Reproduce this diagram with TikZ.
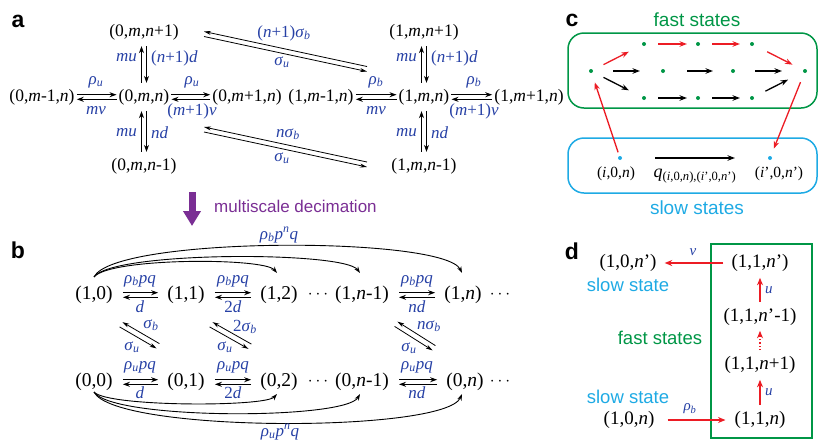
\documentclass[tikz,border=0pt]{standalone}
\usepackage{fontspec}
\setmainfont{Liberation Serif}
\newfontfamily\sansf{Liberation Sans}
\usetikzlibrary{arrows.meta,calc}
\definecolor{lblue}{RGB}{38,64,165}
\definecolor{fgreen}{RGB}{0,150,70}
\definecolor{scyan}{RGB}{30,170,228}
\definecolor{ared}{RGB}{236,28,36}
\definecolor{mpurple}{RGB}{122,46,148}
\newcommand\mi[1]{\textit{#1}}
\newcommand\sbs[1]{\textsubscript{\textit{#1}}}
\begin{document}
\begin{tikzpicture}[x=1pt,y=-1pt,
  stA/.style={inner sep=0pt,font=\fontsize{17.5}{20}\selectfont},
  stB/.style={inner sep=0pt,font=\fontsize{19.5}{22}\selectfont},
  stC/.style={inner sep=0pt,font=\fontsize{15.5}{18}\selectfont},
  stD/.style={inner sep=0pt,font=\fontsize{19}{22}\selectfont},
  dts/.style={inner sep=0pt,font=\fontsize{18}{20}\selectfont},
  lb/.style={inner sep=0pt,text=lblue,font=\fontsize{17}{20}\selectfont},
  lbs/.style={inner sep=0pt,text=lblue,font=\fontsize{15}{18}\selectfont},
  panel/.style={inner sep=0pt,font=\sansf\bfseries\fontsize{23}{26}\selectfont},
  sanslab/.style={inner sep=0pt,font=\sansf\fontsize{18.5}{22}\selectfont},
  tipA/.style={-{Stealth[length=7pt,width=5pt]}},
  fw/.style={line width=1pt,tipA},
  bw/.style={line width=1.6pt,tipA},
  dg/.style={line width=0.8pt,-{Stealth[length=7pt,width=4pt]}},
  cv/.style={line width=0.9pt,-{Stealth[length=6.5pt,width=4.5pt]}},
  ca/.style={line width=1.3pt,-{Stealth[length=7.5pt,width=5.5pt]}},
  da/.style={line width=1.6pt,draw=ared,-{Stealth[length=7.5pt,width=6pt]}},
  dot/.style={circle,fill,inner sep=0pt,minimum size=4pt},
]
\useasboundingbox (0,0) rectangle (818,440);

% ---------------- panel a ----------------
\node[panel] (la) at (18,21) {a};
\node[stA] (a01) at (144,32) {(0,\mi{m},\mi{n}+1)};
\node[stA] (a00) at (144,97) {(0,\mi{m},\mi{n})};
\node[stA] (a0l) at (42,97) {(0,\mi{m}-1,\mi{n})};
\node[stA] (a0r) at (247,97) {(0,\mi{m}+1,\mi{n})};
\node[stA] (a0d) at (144,166) {(0,\mi{m},\mi{n}-1)};
\node[stA] (a11) at (424,32) {(1,\mi{m},\mi{n}+1)};
\node[stA] (a10) at (424,97) {(1,\mi{m},\mi{n})};
\node[stA] (a1l) at (321,97) {(1,\mi{m}-1,\mi{n})};
\node[stA] (a1r) at (529,97) {(1,\mi{m}+1,\mi{n})};
\node[stA] (a1d) at (424,166) {(1,\mi{m},\mi{n}-1)};

\foreach \p/\q in {a0l/a00,a00/a0r,a1l/a10,a10/a1r}{
  \draw[fw,shorten <=2pt,shorten >=2pt] ([yshift=2.3pt]\p.east) -- ([yshift=2.3pt]\q.west);
  \draw[bw,shorten <=2pt,shorten >=2pt] ([yshift=-2.3pt]\q.west) -- ([yshift=-2.3pt]\p.east);
}
\foreach \p/\q in {a01/a00,a00/a0d,a11/a10,a10/a1d}{
  \draw[bw,shorten <=6pt,shorten >=6pt] ([xshift=-2.5pt]\q.north) -- ([xshift=-2.5pt]\p.south);
  \draw[fw,shorten <=6pt,shorten >=6pt] ([xshift=2.5pt]\p.south) -- ([xshift=2.5pt]\q.north);
}
\node[lb] (r1) at (96,82) {\mi{ρ}\sbs{u}};
\node[lb] (r2) at (96,111) {\mi{mv}};
\node[lb] (r3) at (192,82) {\mi{ρ}\sbs{u}};
\node[lb] (r4) at (192,111) {(\mi{m}+1)\mi{v}};
\node[lb] (r5) at (376,82) {\mi{ρ}\sbs{b}};
\node[lb] (r6) at (376,111) {\mi{mv}};
\node[lb] (r7) at (474,82) {\mi{ρ}\sbs{b}};
\node[lb] (r8) at (474,111) {(\mi{m}+1)\mi{v}};
\node[lb,anchor=east] (v1) at (137,58) {\mi{mu}};
\node[lb,anchor=west] (v2) at (151,58) {(\mi{n}+1)\mi{d}};
\node[lb,anchor=east] (v3) at (137,133) {\mi{mu}};
\node[lb,anchor=west] (v4) at (151,133) {\mi{nd}};
\node[lb,anchor=east] (v5) at (417,58) {\mi{mu}};
\node[lb,anchor=west] (v6) at (431,58) {(\mi{n}+1)\mi{d}};
\node[lb,anchor=east] (v7) at (417,133) {\mi{mu}};
\node[lb,anchor=west] (v8) at (431,133) {\mi{nd}};

\coordinate (dt1) at (204,34);
\coordinate (dt2) at (367,69);
\coordinate (db1) at (204,129.5);
\coordinate (db2) at (367,164.5);
\draw[dg] ([yshift=-2.5pt]dt1) -- ([yshift=-2.5pt]dt2);
\draw[dg] ([yshift=2.5pt]dt2) -- ([yshift=2.5pt]dt1);
\draw[dg] ([yshift=-2.5pt]db1) -- ([yshift=-2.5pt]db2);
\draw[dg] ([yshift=2.5pt]db2) -- ([yshift=2.5pt]db1);
\node[lb] (s1) at (284,33) {(\mi{n}+1)\mi{σ}\sbs{b}};
\node[lb] (s2) at (282,62) {\mi{σ}\sbs{u}};
\node[lb] (s3) at (288,134) {\mi{nσ}\sbs{b}};
\node[lb] (s4) at (282,158) {\mi{σ}\sbs{u}};

% ---------------- decimation arrow ----------------
\coordinate (ms1) at (192,192);
\coordinate (ms2) at (192,226);
\draw[mpurple,line width=7pt,-{Triangle[length=15pt,width=17pt]}] (ms1) -- (ms2);
\node[inner sep=0pt,anchor=west,text=mpurple,font=\sansf\fontsize{17}{20}\selectfont] (mst) at (214,206) {multiscale decimation};

% ---------------- panel b ----------------
\node[panel] (lbb) at (18,250) {b};
\node[stB] (b10) at (94,295) {(1,0)};
\node[stB] (b11) at (186,295) {(1,1)};
\node[stB] (b12) at (279,295) {(1,2)};
\node[dts] (bd1) at (318,295) {$\cdots$};
\node[stB] (b1m) at (362,295) {(1,\mi{n}-1)};
\node[stB] (b1n) at (463,295) {(1,\mi{n})};
\node[dts] (bd2) at (500,295) {$\cdots$};
\node[stB] (b00) at (94,382) {(0,0)};
\node[stB] (b01) at (186,382) {(0,1)};
\node[stB] (b02) at (279,382) {(0,2)};
\node[dts] (bd3) at (318,382) {$\cdots$};
\node[stB] (b0m) at (362,382) {(0,\mi{n}-1)};
\node[stB] (b0n) at (465,382) {(0,\mi{n})};
\node[dts] (bd4) at (500,382) {$\cdots$};

\foreach \p/\q in {b10/b11,b11/b12,b1m/b1n,b00/b01,b01/b02,b0m/b0n}{
  \draw[fw,shorten <=10pt,shorten >=9pt] ([yshift=2.3pt]\p.east) -- ([yshift=2.3pt]\q.west);
  \draw[bw,shorten <=9pt,shorten >=10pt] ([yshift=-2.3pt]\q.west) -- ([yshift=-2.3pt]\p.east);
}
\node[lb] (bl1) at (140,281) {\mi{ρ}\sbs{b}\mi{pq}};
\node[lb] (bl2) at (140,307) {\mi{d}};
\node[lb] (bl3) at (233,281) {\mi{ρ}\sbs{b}\mi{pq}};
\node[lb] (bl4) at (233,307) {2\mi{d}};
\node[lb] (bl5) at (417,281) {\mi{ρ}\sbs{b}\mi{pq}};
\node[lb] (bl6) at (417,307) {\mi{nd}};
\node[lb] (bl7) at (140,367) {\mi{ρ}\sbs{u}\mi{pq}};
\node[lb] (bl8) at (140,393) {\mi{d}};
\node[lb] (bl9) at (233,367) {\mi{ρ}\sbs{u}\mi{pq}};
\node[lb] (bl10) at (233,393) {2\mi{d}};
\node[lb] (bl11) at (417,367) {\mi{ρ}\sbs{u}\mi{pq}};
\node[lb] (bl12) at (417,393) {\mi{nd}};

\coordinate (e1a) at (121,324.5); \coordinate (e1b) at (158,346);
\coordinate (e2a) at (211,324.5); \coordinate (e2b) at (250,346.5);
\coordinate (e3a) at (396,324); \coordinate (e3b) at (434,348);
\foreach \u/\w in {e1a/e1b,e2a/e2b,e3a/e3b}{
  \draw[dg] ([xshift=1.4pt,yshift=2.4pt]\w) -- ([xshift=1.4pt,yshift=2.4pt]\u);
  \draw[dg] ([xshift=-1.4pt,yshift=-2.4pt]\u) -- ([xshift=-1.4pt,yshift=-2.4pt]\w);
}
\node[lb] (bs1) at (151,325) {\mi{σ}\sbs{b}};
\node[lb] (bs2) at (132,347) {\mi{σ}\sbs{u}};
\node[lb] (bs3) at (245,327) {2\mi{σ}\sbs{b}};
\node[lb] (bs4) at (225,347) {\mi{σ}\sbs{u}};
\node[lb] (bs5) at (429,326) {\mi{nσ}\sbs{b}};
\node[lb] (bs6) at (409,348) {\mi{σ}\sbs{u}};

\draw[cv] ([yshift=9pt]b10.north) .. controls (110,257.5) and (264,257.5) .. ([xshift=-2pt,yshift=13pt]b12.north);
\draw[cv] ([yshift=9pt]b10.north) .. controls (112,251) and (344,251) .. ([xshift=-2pt,yshift=13pt]b1m.north);
\draw[cv] ([yshift=9pt]b10.north) .. controls (114,236) and (444,236) .. ([xshift=-1pt,yshift=13pt]b1n.north);
\draw[cv] ([yshift=-1pt]b00.south) .. controls (108,407) and (265,407) .. ([xshift=-2pt,yshift=-3pt]b02.south);
\draw[cv] ([yshift=-1pt]b00.south) .. controls (112,420) and (345,420) .. ([xshift=-2pt,yshift=-3pt]b0m.south);
\draw[cv] ([yshift=-1pt]b00.south) .. controls (115,433) and (445,433) .. ([xshift=-3pt,yshift=-3pt]b0n.south);
\node[lb] (bt) at (279,235) {\mi{ρ}\sbs{b}\mi{p}\textsuperscript{\mi{n}}\mi{q}};
\node[lb] (bb) at (280,432) {\mi{ρ}\sbs{u}\mi{p}\textsuperscript{\mi{n}}\mi{q}};

% ---------------- panel c ----------------
\node[panel] (lc) at (572,20) {c};
\node[sanslab,text=fgreen,font=\sansf\fontsize{19}{22}\selectfont] (cft) at (697,20) {fast states};
\node[sanslab,text=scyan,font=\sansf\fontsize{19}{22}\selectfont] (cst) at (697,208) {slow states};
\draw[fgreen,line width=1.5pt,rounded corners=16pt] (568,33) rectangle (817,108);
\draw[scyan,line width=1.5pt,rounded corners=16pt] (568,138) rectangle (817,193);
\begin{scope}[every node/.style={dot,text=fgreen,fill=fgreen}]
\node (cL) at (591,71) {};
\node (cT1) at (644,44) {};
\node (cT2) at (698,44) {};
\node (cT3) at (752,44) {};
\node (cM1) at (663,71) {};
\node (cM2) at (733,71) {};
\node (cR) at (805,71) {};
\node (cB1) at (644,98) {};
\node (cB2) at (698,98) {};
\node (cB3) at (752,98) {};
\end{scope}
\node[dot,fill=scyan] (cSi) at (620,158) {};
\node[dot,fill=scyan] (cSo) at (770,158) {};
\draw[ca,ared,shorten <=14pt,shorten >=17pt] (cL.center) -- (cT1.center);
\draw[ca,ared,shorten <=14pt,shorten >=11pt] (cT1.center) -- (cT2.center);
\draw[ca,ared,shorten <=14pt,shorten >=12pt] (cT2.center) -- (cT3.center);
\draw[ca,ared,shorten <=17pt,shorten >=14pt] (cT3.center) -- (cR.center);
\draw[ca,shorten <=22pt,shorten >=23pt] (cL.center) -- (cM1.center);
\draw[ca,shorten <=24pt,shorten >=20pt] (cM1.center) -- (cM2.center);
\draw[ca,shorten <=22pt,shorten >=23pt] (cM2.center) -- (cR.center);
\draw[ca,shorten <=14pt,shorten >=17pt] (cL.center) -- (cB1.center);
\draw[ca,shorten <=14pt,shorten >=11pt] (cB1.center) -- (cB2.center);
\draw[ca,shorten <=14pt,shorten >=12pt] (cB2.center) -- (cB3.center);
\draw[ca,shorten <=15pt,shorten >=19pt] (cB3.center) -- (cR.center);
\draw[ca,ared,shorten <=6pt,shorten >=12pt] (cSi.center) -- (cL.center);
\draw[ca,ared,shorten <=12pt,shorten >=10pt] (cR.center) -- (cSo.center);
\draw[ca,shorten <=35pt,shorten >=35pt] (cSi.center) -- (cSo.center);
\node[stC] (ci) at (616,174) {(\mi{i},0,\mi{n})};
\node[inner sep=0pt,font=\fontsize{18}{20}\selectfont] (cq) at (695,176) {\mi{q}\textsubscript{(\mi{i},0,\mi{n}),(\mi{i}’,0,\mi{n}’)}};
\node[stC] (co) at (779,174) {(\mi{i}’,0,\mi{n}’)};

% ---------------- panel d ----------------
\node[panel] (ld) at (572,251) {d};
\draw[fgreen,line width=1.3pt] (711,244) rectangle (812,438);
\node[stD] (d1) at (760,263) {(1,1,\mi{n}’)};
\node[stD] (d2) at (760,317) {(1,1,\mi{n}’-1)};
\node[stD] (d3) at (760,365) {(1,1,\mi{n}+1)};
\node[stD] (d4) at (760,420) {(1,1,\mi{n})};
\node[stD] (d5) at (628,263) {(1,0,\mi{n}’)};
\node[stD] (d6) at (629,420) {(1,0,\mi{n})};
\node[sanslab,text=scyan] (dsl1) at (628,285) {slow state};
\node[sanslab,text=fgreen] (dfs) at (660,338) {fast states};
\node[sanslab,text=scyan] (dsl2) at (628,397) {slow state};
\draw[da,shorten >=8pt] ([xshift=-8pt]d1.west) -- (d5.east);
\draw[da,shorten <=13pt,shorten >=9pt] (d6.east) -- (d4.west);
\draw[da,shorten <=6pt,shorten >=6pt] (d4.north) -- (d3.south);
\draw[da,shorten <=6pt,shorten >=6pt] (d2.north) -- (d1.south);
\draw[da,line width=1.3pt,dotted,shorten <=6pt,shorten >=5pt] (d3.north) -- (d2.south);
\node[lbs] (dv) at (693,252) {\mi{v}};
\node[lbs,anchor=west] (du1) at (765,290) {\mi{u}};
\node[lbs,anchor=west] (du2) at (765,392) {\mi{u}};
\node[lbs] (dr) at (690,409) {\mi{ρ}\sbs{b}};
\end{tikzpicture}
\end{document}
